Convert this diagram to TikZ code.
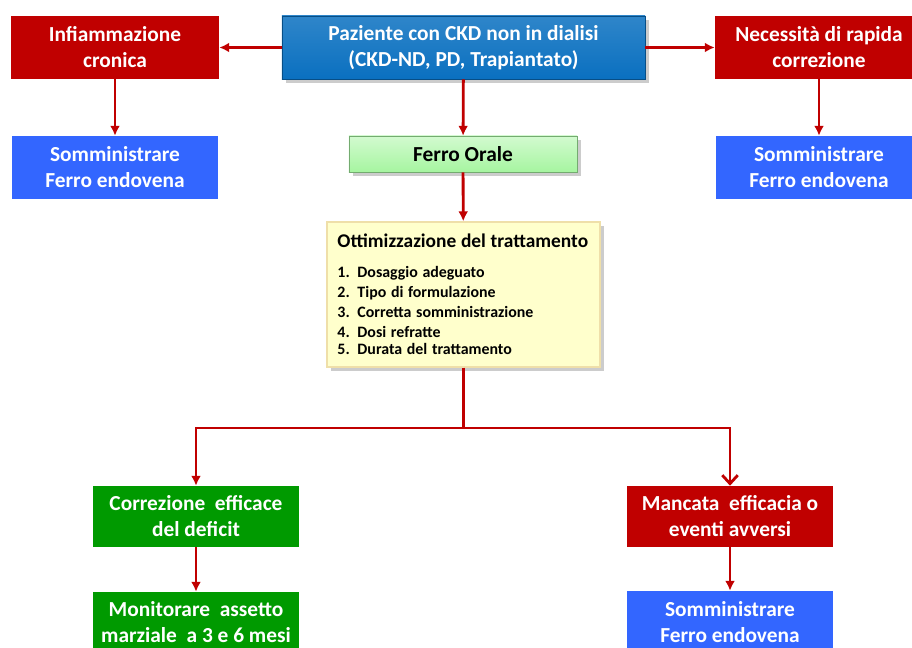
\documentclass[tikz,border=0pt]{standalone}
\usepackage{fontspec}
\setmainfont{Carlito}
\usetikzlibrary{arrows.meta,shadows}

\definecolor{scarlet}{HTML}{C00000}
\definecolor{kidneyblue}{HTML}{0A70C0}
\definecolor{ironblue}{HTML}{3366FF}
\definecolor{leafgreen}{HTML}{009A00}
\definecolor{mintgreen}{HTML}{A6F5A0}
\definecolor{cream}{HTML}{FFFFCC}

\begin{document}
\begin{tikzpicture}[x=0.025cm,y=-0.025cm,
	box/.style={minimum width=5.2cm,minimum height=1.575cm,inner sep=2pt,align=center,text=white,font=\fontsize{15.2}{18.5}\selectfont\bfseries},
	redbox/.style={box,fill=scarlet},
	bluebox/.style={box,fill=ironblue},
	greenbox/.style={box,fill=leafgreen,minimum width=5.15cm,minimum height=1.525cm},
	shadowed/.style={drop shadow={shadow xshift=3pt,shadow yshift=-3pt,opacity=0.4}},
	link/.style={line width=2pt,scarlet,-{Latex[length=7pt,width=7pt]}},
	wire/.style={line width=2pt,scarlet}]
\useasboundingbox (0,0) rectangle (912,648);
\fill[white] (0,0) rectangle (912,648);
\clip (0,0) rectangle (912,648);

\node[box,shadowed,top color=kidneyblue!85!white,bottom color=kidneyblue,draw=kidneyblue!70!black,minimum width=9.075cm] (paz) at (463.5,47.5)
	{Paziente con CKD non in dialisi\\(CKD-ND, PD, Trapiantato)};
\node[redbox] (infl) at (115,47.5) {Infiammazione\\cronica};
\node[redbox] (nec) at (819,47.5) {Necessità di rapida\\correzione};

\foreach \x/\y/\n in {115/167.5/som1, 819/167.5/som2, 730/622.5/som3}
	{
	\node[bluebox,minimum width=5.15cm] (\n) at (\x,\y) {Somministrare\\Ferro endovena};
	}

\node[box,shadowed,text=black,top color=mintgreen!50!white,bottom color=mintgreen,draw=mintgreen!70!black,minimum width=5.7cm,minimum height=0.9cm] (oral) at (463,154) {Ferro Orale};

\node[shadowed,draw=cream!75!brown,fill=cream,line width=1pt,minimum width=6.825cm,minimum height=3.625cm,text width=6.3cm,align=left,font=\bfseries] (ott) at (463.5,294.5)
	{\fontsize{13.8}{16}\selectfont Ottimizzazione del trattamento\\[7pt]
	\fontsize{11.3}{14.2}\selectfont
	\makebox[0.5cm][l]{1.}Dosaggio adeguato\\
	\makebox[0.5cm][l]{2.}Tipo di formulazione\\
	\makebox[0.5cm][l]{3.}Corretta somministrazione\\
	\makebox[0.5cm][l]{4.}Dosi refratte\\
	\makebox[0.5cm][l]{5.}Durata del trattamento};

\node[greenbox] (corr) at (196,516.5) {Correzione\ \ efficace\\del deficit};
\node[greenbox] (mon) at (196,622.5) {Monitorare\ \ assetto\\marziale\ \ a 3 e 6 mesi};
\node[redbox,minimum width=5.15cm,minimum height=1.525cm] (manc) at (730,516.5) {Mancata\ \ efficacia o\\eventi avversi};

\coordinate (split) at (463.5,428);

\draw[link] (paz.west) -- (infl.east);
\draw[link] (paz.east) -- (nec.west);
\draw[link] (infl) -- (som1);
\draw[link] (nec) -- (som2);
\draw[link] (paz) -- (oral);
\draw[link] (oral) -- (ott);
\draw[wire] (ott.south) -- (split);
\draw[link] (split) -| (corr.north);
\draw[link,-{Straight Barb[length=6pt,width=11pt,line width=2pt]}] (split) -| (manc.north);
\draw[link] (corr) -- (mon);
\draw[link] (manc) -- (som3);
\end{tikzpicture}
\end{document}
